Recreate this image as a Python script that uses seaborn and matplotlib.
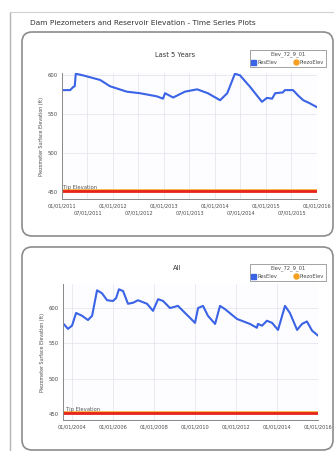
import matplotlib
matplotlib.use('Agg')
import matplotlib.pyplot as plt
import seaborn as sns
from matplotlib.patches import FancyBboxPatch
from matplotlib.lines import Line2D

# values (x in decimal years)
last5_years = [2011.02, 2011.16, 2011.22, 2011.25, 2011.27, 2011.41, 2011.75, 2011.94,
               2012.27, 2012.53, 2012.86, 2012.98, 2013.02, 2013.18, 2013.41, 2013.65,
               2013.86, 2014.10, 2014.24, 2014.39, 2014.49, 2014.69, 2014.92, 2015.02,
               2015.12, 2015.18, 2015.33, 2015.37, 2015.53, 2015.63, 2015.73, 2015.86, 2016.0]
last5_elev = [581, 581, 585, 586, 602, 600, 594, 586, 579, 577, 573, 570, 577, 571.5,
              579, 582, 577, 568, 577, 602, 600, 585, 566, 571, 570, 577, 578, 581,
              581, 574, 568, 564, 559]

all_years = [2003.61, 2003.80, 2004.00, 2004.20, 2004.49, 2004.78, 2004.98, 2005.22,
             2005.46, 2005.71, 2006.00, 2006.15, 2006.29, 2006.49, 2006.73, 2006.98,
             2007.22, 2007.66, 2007.95, 2008.20, 2008.44, 2008.78, 2009.17, 2009.41,
             2010.00, 2010.15, 2010.39, 2010.63, 2010.98, 2011.22, 2011.46, 2012.05,
             2012.68, 2013.02, 2013.07, 2013.27, 2013.51, 2013.76, 2014.05, 2014.39,
             2014.63, 2014.98, 2015.22, 2015.46, 2015.71, 2016.0]
all_elev = [577, 570.5, 575, 593, 589, 583, 589, 625, 621, 611, 610, 614, 626.5, 624,
            606, 607.5, 611, 606, 596, 612.5, 610, 600, 603, 596, 579, 600, 603, 589,
            577.5, 603, 598.5, 584.5, 577.5, 572, 577.5, 575, 582, 579, 569, 603, 593,
            569, 577.5, 581, 568, 561]

piezo_last5_years = [2011.0, 2016.0]
piezo_last5_elev = [453, 453]
piezo_all_years = [2003.56, 2016.0]
piezo_all_elev = [453, 453]
tip_elevation = 451.5

last5_jan_ticks = [2011.0, 2012.0, 2013.0, 2014.0, 2015.0, 2016.0]
last5_jan_labels = ['01/01/2011', '01/01/2012', '01/01/2013', '01/01/2014',
                    '01/01/2015', '01/01/2016']
last5_jul_ticks = [2011.5, 2012.5, 2013.5, 2014.5, 2015.5]
last5_jul_labels = ['07/01/2011', '07/01/2012', '07/01/2013', '07/01/2014', '07/01/2015']
all_ticks = [2004, 2006, 2008, 2010, 2012, 2014, 2016]
all_ticklabels = ['01/01/2004', '01/01/2006', '01/01/2008', '01/01/2010',
                  '01/01/2012', '01/01/2014', '01/01/2016']
all_minor_ticks = [2005, 2007, 2009, 2011, 2013, 2015]
y_ticks = [450, 500, 550, 600]

sns.set_style('white')
plt.rcParams['font.family'] = ['DejaVu Sans']

W, H = 334, 451
fig = plt.figure(figsize=(W / 100, H / 100), dpi=100)
fig.patch.set_facecolor('white')

BLUE = '#3a63e6'
RED = '#e8231b'
ORANGE = '#f4a020'
TXT = '#4a4a4a'

# page frame lines
fig.add_artist(Line2D([10 / W, 10 / W], [0, 1 - 12 / H], transform=fig.transFigure,
                      color='#b5b5b5', lw=1.0, zorder=-2))
fig.add_artist(Line2D([10 / W, 1], [1 - 12 / H, 1 - 12 / H], transform=fig.transFigure,
                      color='#d0d0d0', lw=0.8, zorder=-2))
fig.text(30 / W, 1 - 23 / H, 'Dam Piezometers and Reservoir Elevation - Time Series Plots',
         fontsize=5.3, color='#333333', va='center', ha='left')

# rounded panels (behind the axes)
for top, bot in [(32, 236), (247, 450)]:
    fig.add_artist(FancyBboxPatch((22 / W, 1 - bot / H), (333 - 22) / W, (bot - top) / H,
                                  boxstyle='round,pad=0,rounding_size=0.03',
                                  mutation_aspect=W / H, transform=fig.transFigure,
                                  facecolor='white', edgecolor='#8c8c8c', lw=1.2, zorder=-1))


def style_axes(ax, ylim, xlim):
    ax.set_zorder(3)
    ax.set_xlim(*xlim)
    ax.set_ylim(*ylim)
    ax.set_facecolor('#fdfdff')
    ax.set_yticks(y_ticks)
    ax.set_yticklabels([str(v) for v in y_ticks], fontsize=3.8, color=TXT)
    ax.tick_params(which='both', direction='inout', width=0.6, color='#777777', pad=1.5)
    ax.tick_params(which='major', length=3)
    ax.grid(True, which='both', axis='x', color='#e6e6ee', lw=0.6)
    ax.grid(True, which='major', axis='y', color='#e6e6ee', lw=0.6)
    for s in ['top', 'right']:
        ax.spines[s].set_visible(False)
    for s in ['left', 'bottom']:
        ax.spines[s].set_color('#888888')
        ax.spines[s].set_linewidth(0.7)
    ax.set_xlabel('')
    ax.set_ylabel('Piezometer Surface Elevation (ft)', fontsize=3.4, color=TXT, labelpad=2.5)


def add_legend(ax, top_y):
    handles = [Line2D([], [], marker='s', color=BLUE, ls='none', markersize=3.6, label='ResElev'),
               Line2D([], [], marker='o', color=ORANGE, ls='none', markersize=3.6, label='PiezoElev')]
    leg = ax.legend(handles=handles, ncol=2, title='Elev_72_9_01', loc='upper right',
                    bbox_to_anchor=(326 / W, 1 - top_y / H), bbox_transform=fig.transFigure,
                    fontsize=3.7, title_fontsize=3.7, frameon=True, fancybox=False,
                    edgecolor='#777777', borderpad=0.35, handletextpad=0.4,
                    columnspacing=3.2, handlelength=0.8, borderaxespad=0)
    leg.get_frame().set_linewidth(0.6)
    for t in leg.get_texts():
        t.set_color(TXT)
    leg.get_title().set_color(TXT)


# top panel: last 5 years
ax1 = fig.add_axes([62 / W, 1 - 199 / H, (317 - 62) / W, (199 - 73) / H])
sns.lineplot(x=last5_years, y=last5_elev, ax=ax1, color=BLUE, lw=1.5,
             solid_joinstyle='round', solid_capstyle='round')
sns.lineplot(x=piezo_last5_years, y=piezo_last5_elev, ax=ax1, color=ORANGE, lw=1.8)
ax1.axhline(tip_elevation, color=RED, lw=2.0)
ax1.text(2011.02, tip_elevation + 1.2, 'Tip Elevation', fontsize=3.8, color='#555555',
         va='bottom', ha='left')
style_axes(ax1, (441, 603), (2011.0, 2016.0))
ax1.set_xticks(last5_jan_ticks)
ax1.set_xticklabels(last5_jan_labels, fontsize=3.6, color=TXT)
ax1.set_xticks(last5_jul_ticks, minor=True)
ax1.set_xticklabels(last5_jul_labels, minor=True, fontsize=3.6, color=TXT)
ax1.tick_params(axis='x', which='minor', length=3, pad=7)
fig.text(175 / W, 1 - 55 / H, 'Last 5 Years', fontsize=4.8, color='#333333',
         ha='center', va='center')
add_legend(ax1, 50)

# bottom panel: all
ax2 = fig.add_axes([63 / W, 1 - 420 / H, (318 - 63) / W, (420 - 284) / H])
sns.lineplot(x=all_years, y=all_elev, ax=ax2, color=BLUE, lw=1.5,
             solid_joinstyle='round', solid_capstyle='round')
sns.lineplot(x=piezo_all_years, y=piezo_all_elev, ax=ax2, color=ORANGE, lw=1.8)
ax2.axhline(tip_elevation, color=RED, lw=2.0)
ax2.text(2003.7, tip_elevation + 1.2, 'Tip Elevation', fontsize=3.8, color='#555555',
         va='bottom', ha='left')
style_axes(ax2, (441.5, 634), (2003.56, 2016.0))
ax2.set_xticks(all_ticks)
ax2.set_xticklabels(all_ticklabels, fontsize=3.6, color=TXT)
ax2.set_xticks(all_minor_ticks, minor=True)
ax2.tick_params(axis='x', which='minor', length=2)
ax2.grid(False, which='minor', axis='x')
fig.text(177 / W, 1 - 268 / H, 'All', fontsize=4.8, color='#333333',
         ha='center', va='center')
add_legend(ax2, 264)

fig.savefig('out.png', dpi=100)
